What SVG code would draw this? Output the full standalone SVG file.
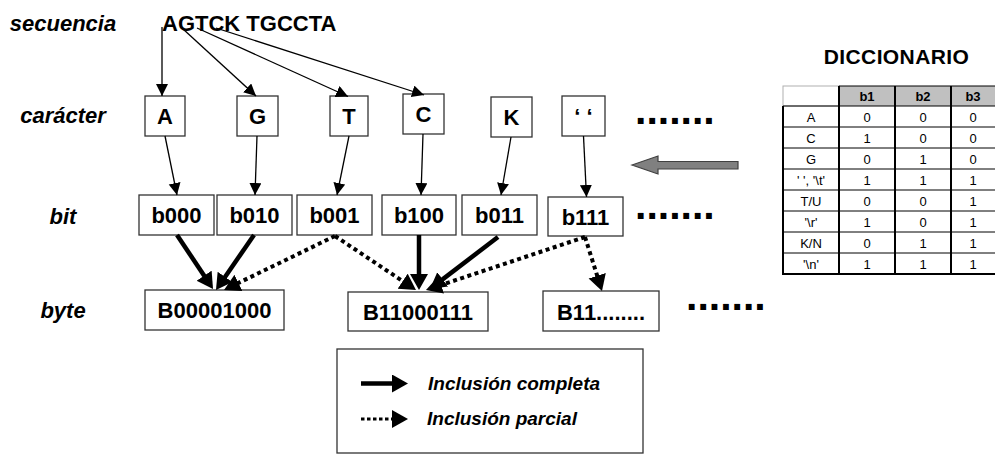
<svg xmlns="http://www.w3.org/2000/svg" width="995" height="456" viewBox="0 0 995 456">
<style>
.lbl{font-family:"Liberation Sans",Arial,sans-serif;font-weight:bold;font-style:italic;font-size:22px;fill:#000;text-anchor:middle}
.bx{fill:#fff;stroke:#333;stroke-width:1.3}
.t{font-family:"Liberation Sans",Arial,sans-serif;font-weight:bold;font-size:22px;fill:#000;text-anchor:middle}
.dots{font-family:"Liberation Sans",Arial,sans-serif;font-weight:bold;font-size:41px;fill:#000}
.thin{stroke:#000;stroke-width:1.3;fill:none}
.thick{stroke:#000;stroke-width:4.5;fill:none}
.dot{stroke:#000;stroke-width:4;fill:none;stroke-dasharray:4 3.5}
.tc{font-family:"Liberation Sans",Arial,sans-serif;font-size:13px;fill:#000;text-anchor:middle}
.th{font-family:"Liberation Sans",Arial,sans-serif;font-size:13px;font-weight:bold;fill:#000;text-anchor:middle}
.leg{font-family:"Liberation Sans",Arial,sans-serif;font-weight:bold;font-style:italic;font-size:19px;fill:#000}
</style>
<defs>
<marker id="ah" markerUnits="userSpaceOnUse" markerWidth="14" markerHeight="14" refX="12" refY="6" orient="auto"><path d="M0,0 L12,6 L0,12 z" fill="#000"/></marker>
<marker id="ahb" markerUnits="userSpaceOnUse" markerWidth="18" markerHeight="20" refX="1" refY="9" orient="auto"><path d="M0,0 L16,9 L0,18 z" fill="#000"/></marker>
</defs>

<g id="row-labels">
<text class="lbl" x="63" y="31">secuencia</text>
<text class="lbl" x="63" y="123">carácter</text>
<text class="lbl" x="63" y="224">bit</text>
<text class="lbl" x="63" y="318">byte</text>
</g>

<g id="sequence"><text class="t" x="162" y="31" style="text-anchor:start">AGTCK TGCCTA</text></g>

<g id="char-A"><rect class="bx" x="145" y="96" width="40" height="40"/><text class="t" x="165" y="124">A</text></g>
<g id="char-G"><rect class="bx" x="237" y="96" width="41" height="40"/><text class="t" x="257.5" y="124">G</text></g>
<g id="char-T"><rect class="bx" x="330" y="96" width="38" height="40"/><text class="t" x="349" y="124">T</text></g>
<g id="char-C"><rect class="bx" x="403" y="94" width="41" height="40"/><text class="t" x="423.5" y="122">C</text></g>
<g id="char-K"><rect class="bx" x="491" y="97" width="41" height="40"/><text class="t" x="511.5" y="125">K</text></g>
<g id="char-space"><rect class="bx" x="562" y="96" width="43" height="40"/><text class="t" x="583.5" y="124">‘ ‘</text></g>
<g id="char-more"><text class="dots" x="635" y="123.5">.......</text></g>

<g id="bit-b000"><rect class="bx" x="139" y="195" width="75" height="40"/><text class="t" x="176.5" y="223">b000</text></g>
<g id="bit-b010"><rect class="bx" x="217" y="195" width="75" height="40"/><text class="t" x="254.5" y="223">b010</text></g>
<g id="bit-b001"><rect class="bx" x="297" y="195" width="75" height="40"/><text class="t" x="334.5" y="223">b001</text></g>
<g id="bit-b100"><rect class="bx" x="382" y="195" width="74" height="40"/><text class="t" x="419" y="223">b100</text></g>
<g id="bit-b011"><rect class="bx" x="462" y="195" width="75" height="40"/><text class="t" x="499.5" y="223">b011</text></g>
<g id="bit-b111"><rect class="bx" x="548" y="197" width="75" height="39"/><text class="t" x="585.5" y="225">b111</text></g>
<g id="bit-more"><text class="dots" x="635" y="219">.......</text></g>

<g id="byte-1"><rect class="bx" x="145" y="290" width="139" height="40"/><text class="t" x="214.5" y="318">B00001000</text></g>
<g id="byte-2"><rect class="bx" x="348" y="292" width="140" height="39"/><text class="t" x="418" y="320">B11000111</text></g>
<g id="byte-3"><rect class="bx" x="543" y="291" width="116" height="40"/><text class="t" x="601" y="320">B11........</text></g>
<g id="byte-more"><text class="dots" x="686" y="310">.......</text></g>

<g id="connectors">
<line class="thin" x1="162" y1="27" x2="162" y2="96" marker-end="url(#ah)"/>
<line class="thin" x1="183" y1="29" x2="256" y2="96" marker-end="url(#ah)"/>
<line class="thin" x1="197" y1="28" x2="348" y2="96.5" marker-end="url(#ah)"/>
<line class="thin" x1="216" y1="28" x2="424" y2="95" marker-end="url(#ah)"/>
<line class="thin" x1="165" y1="136" x2="177" y2="195" marker-end="url(#ah)"/>
<line class="thin" x1="257" y1="136" x2="255" y2="195" marker-end="url(#ah)"/>
<line class="thin" x1="349" y1="136" x2="337" y2="195" marker-end="url(#ah)"/>
<line class="thin" x1="423" y1="134" x2="421" y2="195" marker-end="url(#ah)"/>
<line class="thin" x1="511" y1="137" x2="501" y2="195" marker-end="url(#ah)"/>
<line class="thin" x1="583.5" y1="136" x2="586.5" y2="197" marker-end="url(#ah)"/>
<line class="thick" x1="177" y1="235" x2="204.7" y2="276.5" marker-end="url(#ahb)"/>
<line class="thick" x1="254" y1="235" x2="224.5" y2="277.7" marker-end="url(#ahb)"/>
<line class="thick" x1="419" y1="235" x2="419" y2="275" marker-end="url(#ahb)"/>
<line class="thick" x1="498" y1="237" x2="441.9" y2="279.9" marker-end="url(#ahb)"/>
<line class="dot" x1="335" y1="236" x2="237.5" y2="283.4" marker-end="url(#ahb)"/>
<line class="dot" x1="335" y1="236" x2="403.5" y2="281.7" marker-end="url(#ahb)"/>
<line class="dot" x1="585" y1="237" x2="440.2" y2="285.3" marker-end="url(#ahb)"/>
<line class="dot" x1="585" y1="237" x2="597.5" y2="276.7" marker-end="url(#ahb)"/>
</g>

<g id="dict-arrow"><polygon points="632,165 658,156 658,161.5 738,161.5 738,169 658,169 658,174" fill="#808080" stroke="#404040" stroke-width="1.2"/></g>

<g id="dictionary">
<text class="t" x="896.5" y="64" style="font-size:21px;letter-spacing:0.4px">DICCIONARIO</text>
<rect x="839" y="86" width="160" height="20" fill="#c0c0c0"/>
<rect x="783" y="86" width="56" height="20" fill="#fff" stroke="#b0b0b0" stroke-width="1"/>
<g stroke="#000" stroke-width="1">
<line x1="839" y1="86" x2="999" y2="86"/>
<line x1="783" y1="106" x2="999" y2="106"/>
<line x1="783" y1="127" x2="999" y2="127"/>
<line x1="783" y1="148" x2="999" y2="148"/>
<line x1="783" y1="169" x2="999" y2="169"/>
<line x1="783" y1="190" x2="999" y2="190"/>
<line x1="783" y1="211" x2="999" y2="211"/>
<line x1="783" y1="232" x2="999" y2="232"/>
<line x1="783" y1="253" x2="999" y2="253"/>
</g>
<g stroke="#000" stroke-width="2">
<line x1="783" y1="106" x2="783" y2="275"/>
<line x1="839" y1="86" x2="839" y2="275"/>
<line x1="895" y1="86" x2="895" y2="275"/>
<line x1="951" y1="86" x2="951" y2="275"/>
<line x1="782" y1="274" x2="999" y2="274"/>
</g>
<text class="th" x="867" y="101">b1</text><text class="th" x="923" y="101">b2</text><text class="th" x="973" y="101">b3</text>
<text class="tc" x="811" y="121.5">A</text><text class="tc" x="867" y="121.5">0</text><text class="tc" x="923" y="121.5">0</text><text class="tc" x="973" y="121.5">0</text>
<text class="tc" x="811" y="142.5">C</text><text class="tc" x="867" y="142.5">1</text><text class="tc" x="923" y="142.5">0</text><text class="tc" x="973" y="142.5">0</text>
<text class="tc" x="811" y="163.5">G</text><text class="tc" x="867" y="163.5">0</text><text class="tc" x="923" y="163.5">1</text><text class="tc" x="973" y="163.5">0</text>
<text class="tc" x="811" y="184.5">' ', '\t'</text><text class="tc" x="867" y="184.5">1</text><text class="tc" x="923" y="184.5">1</text><text class="tc" x="973" y="184.5">1</text>
<text class="tc" x="811" y="205.5">T/U</text><text class="tc" x="867" y="205.5">0</text><text class="tc" x="923" y="205.5">0</text><text class="tc" x="973" y="205.5">1</text>
<text class="tc" x="811" y="226.5">'\r'</text><text class="tc" x="867" y="226.5">1</text><text class="tc" x="923" y="226.5">0</text><text class="tc" x="973" y="226.5">1</text>
<text class="tc" x="811" y="247.5">K/N</text><text class="tc" x="867" y="247.5">0</text><text class="tc" x="923" y="247.5">1</text><text class="tc" x="973" y="247.5">1</text>
<text class="tc" x="811" y="268.5">'\n'</text><text class="tc" x="867" y="268.5">1</text><text class="tc" x="923" y="268.5">1</text><text class="tc" x="973" y="268.5">1</text>
</g>

<g id="legend">
<rect x="337" y="349" width="306" height="104" fill="#fff" stroke="#333" stroke-width="1.3"/>
<line class="thick" x1="361" y1="383.5" x2="393" y2="383.5" marker-end="url(#ahb)"/>
<line stroke="#000" stroke-width="3" stroke-dasharray="3.5 2.5" x1="361" y1="419" x2="393" y2="419" marker-end="url(#ahb)"/>
<text class="leg" x="428" y="390">Inclusión completa</text>
<text class="leg" x="427" y="425">Inclusión parcial</text>
</g>
</svg>
